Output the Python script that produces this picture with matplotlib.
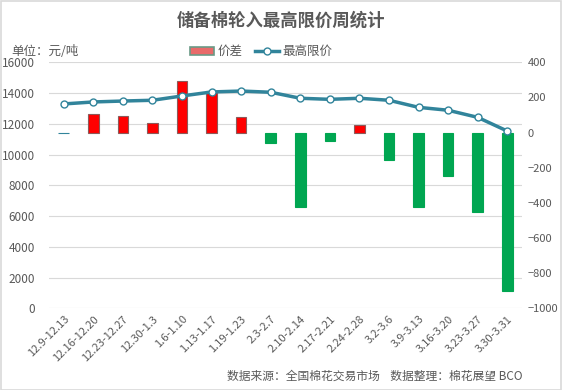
import matplotlib
matplotlib.use("Agg")
import matplotlib.pyplot as plt
from matplotlib.patches import Patch, Rectangle
from matplotlib.lines import Line2D

plt.rcParams['font.family'] = ['Noto Sans CJK SC', 'DejaVu Sans']

weeks = ['12.9-12.13', '12.16-12.20', '12.23-12.27', '12.30-1.3', '1.6-1.10',
         '1.13-1.17', '1.19-1.23', '2.3-2.7', '2.10-2.14', '2.17-2.21',
         '2.24-2.28', '3.2-3.6', '3.9-3.13', '3.16-3.20', '3.23-3.27', '3.30-3.31']
max_price = [13290, 13420, 13480, 13530, 13810, 14070, 14130, 14050,
             13660, 13590, 13660, 13530, 13070, 12880, 12420, 11530]
spread = [0, 108, 95, 57, 291, 236, 91, -60,
          -423, -46, 43, -156, -423, -248, -451, -901]

grey = '#595959'
line_c = '#31849b'
red = '#ff0000'
green = '#00a651'

fig = plt.figure(figsize=(5.62, 3.9), dpi=100)
ax = fig.add_axes([0.0872, 0.2095, 0.8416, 0.6308])
ax2 = ax.twinx()

x = list(range(len(weeks)))

# bars on right axis
cols = [red if v > 0 else green for v in spread]
edges = ['#8c5a5a' if v > 0 else green for v in spread]
edges[0] = line_c
ax2.bar(x, spread, width=0.36, color=cols, edgecolor=edges, linewidth=0.8, zorder=2)
ax2.set_ylim(-1000, 400)
ax2.set_yticks(range(-1000, 401, 200))

# line on left axis, drawn above bars
ax.set_zorder(ax2.get_zorder() + 1)
ax.patch.set_visible(False)
ax.plot(x, max_price, color=line_c, lw=2.5, marker='o', ms=5,
        mfc='white', mec=line_c, mew=1, zorder=3)
ax.set_ylim(0, 16000)
ax.set_yticks(range(0, 16001, 2000))
ax.set_xlim(-0.5, len(weeks) - 0.5)
ax.set_xticks(x)
ax.set_xticklabels(weeks, rotation=45, ha='right', rotation_mode='anchor')

# gridlines follow the left axis, drawn on ax2 so they sit beneath bars
for v in range(0, 16001, 2000):
    ax2.axhline(v / 16000 * 1400 - 1000, color='#d9d9d9', lw=0.8, zorder=0)

for a in (ax, ax2):
    for s in a.spines.values():
        s.set_visible(False)
    a.tick_params(length=0, colors=grey, labelsize=8.5)
ax.tick_params(axis='x', labelsize=8, pad=4)
ax.tick_params(axis='y', pad=10)
ax2.tick_params(axis='y', pad=4, labelsize=8)

fig.text(0.5, 0.948, '储备棉轮入最高限价周统计', ha='center', va='center',
         fontsize=12.5, fontweight='bold', color=grey)
fig.text(0.02, 0.868, '单位：元/吨', ha='left', va='center', fontsize=9, color=grey)

handles = [Patch(facecolor='#e86a6a', edgecolor='#6a9a86', linewidth=1.2),
           Line2D([0], [0], color=line_c, lw=2.5, marker='o', ms=5,
                  mfc='white', mec=line_c)]
fig.legend(handles, ['价差', '最高限价'], loc='center', bbox_to_anchor=(0.465, 0.868),
           ncol=2, frameon=False, fontsize=9, labelcolor=grey,
           handlelength=1.9, handleheight=0.6, columnspacing=1.0, handletextpad=0.3)

fig.text(0.93, 0.034, '数据来源：全国棉花交易市场    数据整理：棉花展望 BCO',
         ha='right', va='center', fontsize=8.5, color=grey)

fig.patches.append(Rectangle((0.001, 0.001), 0.997, 0.997, transform=fig.transFigure,
                             fill=False, edgecolor='#d9d9d9', lw=1.2))

fig.savefig('out.png', dpi=100)
